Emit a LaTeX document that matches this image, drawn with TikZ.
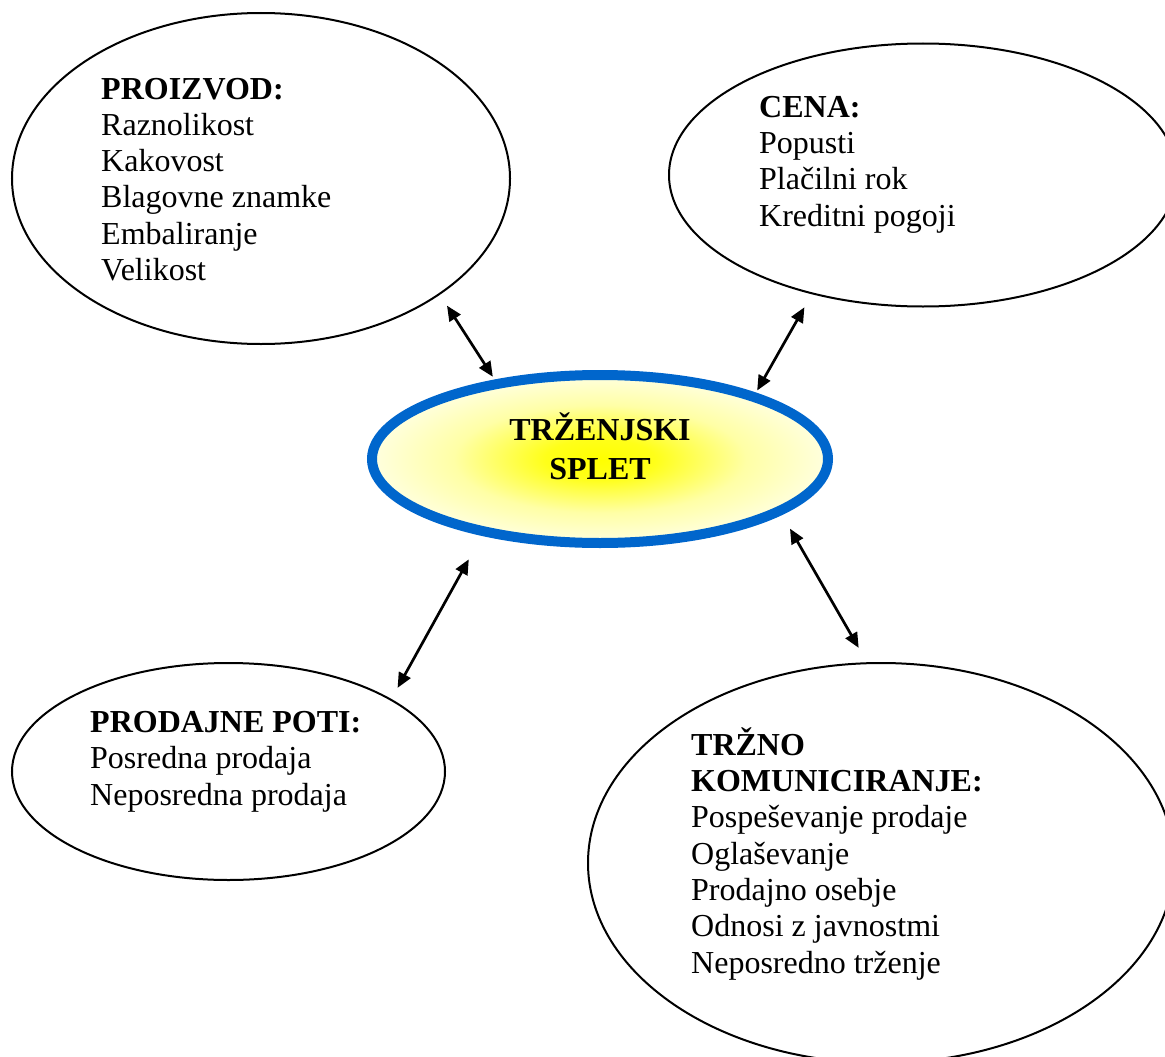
\documentclass[tikz,border=0pt]{standalone}
\usepackage{fontspec}
\setmainfont{Liberation Serif}
\usetikzlibrary{shapes.geometric,arrows.meta}

\definecolor{spletblue}{HTML}{0066CC}
\pgfdeclareradialshading{spletglow}{\pgfpoint{0bp}{0bp}}{%
  color(0bp)=(yellow); color(6bp)=(yellow!90!white);
  color(16bp)=(yellow!35!white); color(30bp)=(white); color(50bp)=(white)}

\begin{document}
\begin{tikzpicture}[x=1pt, y=-1pt,
    font=\fontsize{32}{36.3}\selectfont,
    bubble/.style={ellipse, draw, line width=2pt, inner sep=0pt},
    link/.style={{Triangle[length=15pt,width=13pt]}-{Triangle[length=15pt,width=13pt]}, line width=2.7pt},
    txt/.style={anchor=base west, align=left, inner sep=0pt}]
  \useasboundingbox (0,0) rectangle (1165,1057);
  \clip (0,0) rectangle (1165,1057);

  % Ellipses
  \node[bubble, minimum width=498pt, minimum height=331pt] (proizvod) at (261,178.5) {};
  \node[bubble, minimum width=508pt, minimum height=263pt] (cena) at (923,175) {};
  \node[bubble, minimum width=433pt, minimum height=217pt] (prodaja) at (228.5,771.5) {};
  \node[bubble, minimum width=586pt, minimum height=400pt] (komunikacija) at (881,863) {};
  \node[ellipse, draw=spletblue, line width=10pt, inner sep=0pt, shading=spletglow,
        minimum width=456pt, minimum height=168pt] (splet) at (600,459) {};

  % Labels (placed at the baseline of their last line)
  \node[anchor=base, align=center, inner sep=0pt, font=\fontsize{32}{38.5}\selectfont\bfseries]
    (splettxt) at (600,479) {TRŽENJSKI\\SPLET};
  \node[txt] (proizvodtxt) at (101,280.5) {\textbf{PROIZVOD:}\\Raznolikost\\Kakovost\\Blagovne znamke\\Embaliranje\\Velikost};
  \node[txt] (cenatxt) at (759,226) {\textbf{CENA:}\\Popusti\\Plačilni rok\\Kreditni pogoji};
  \node[txt] (prodajatxt) at (90,805) {\textbf{PRODAJNE POTI:}\\Posredna prodaja\\Neposredna prodaja};
  \node[txt] (komunikacijatxt) at (691,973) {\textbf{TRŽNO}\\\textbf{KOMUNICIRANJE:}\\Pospeševanje prodaje\\Oglaševanje\\Prodajno osebje\\Odnosi z javnostmi\\Neposredno trženje};

  % Arrows
  \draw[link, shorten <=13pt, shorten >=3.4pt] (proizvod.-33.65) -- (splet.143.3);
  \draw[link, shorten <=15pt, shorten >=2.7pt] (cena.-133.1) -- (splet.23.3);
  \draw[link, shorten <=27pt, shorten >=12.7pt] (splet.-147.5) -- (prodaja.24.5);
  \draw[link, shorten <=16.2pt, shorten >=16.6pt] (splet.-17.6) -- (komunikacija.94.1);
\end{tikzpicture}
\end{document}
